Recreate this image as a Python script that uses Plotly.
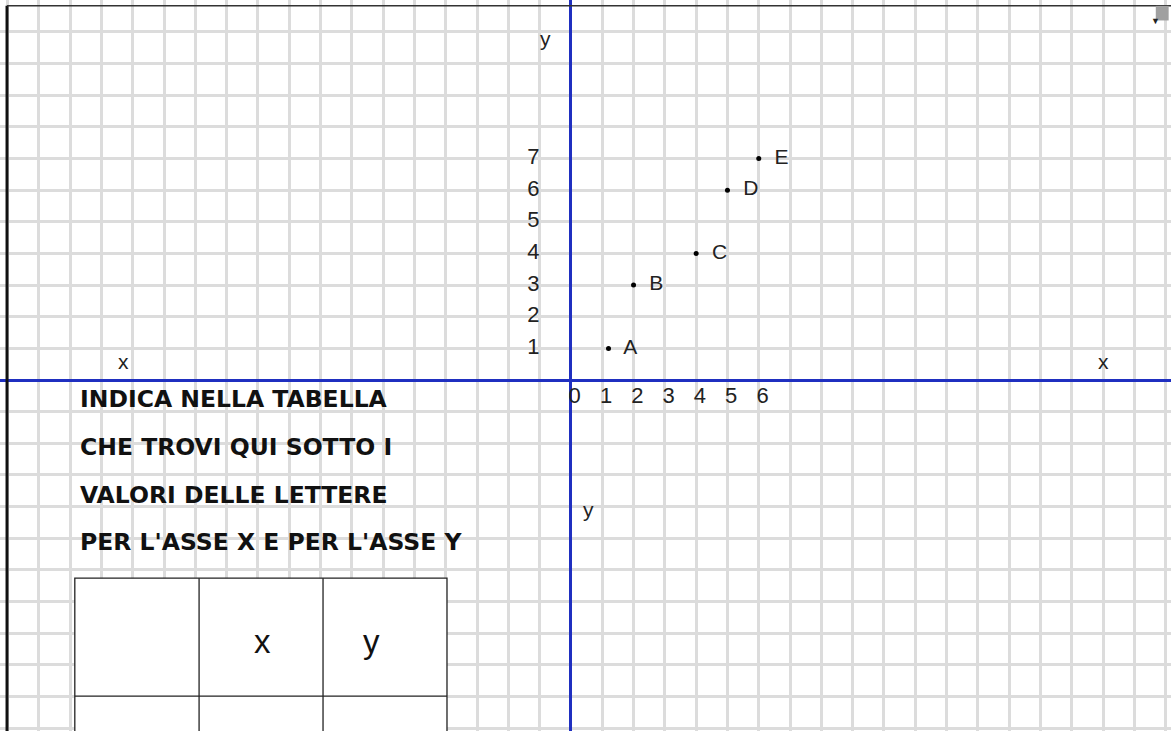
import plotly.graph_objects as go

# punti del piano cartesiano
lettere = ["A", "B", "C", "D", "E"]
px_ = [1.2, 2, 4, 5, 6]
py_ = [1, 3, 4, 6, 7]

# numeri scritti lungo gli assi
num_x = [0, 1, 2, 3, 4, 5, 6]
num_y = [1, 2, 3, 4, 5, 6, 7]

consegna = ["INDICA NELLA TABELLA", "CHE TROVI QUI SOTTO I",
            "VALORI DELLE LETTERE", "PER L'ASSE X E PER L'ASSE Y"]
intestazione = ["", "x", "y"]

font = "Liberation Sans, Arial, sans-serif"
blu = "#1f2fc0"

fig = go.Figure()

fig.add_trace(go.Scatter(x=px_, y=py_, mode="markers+text", text=lettere,
                         texttemplate="  %{text}", textposition="middle right",
                         marker=dict(color="black", size=5),
                         textfont=dict(family=font, size=21, color="#222"),
                         hoverinfo="skip"))

fig.add_trace(go.Scatter(x=[v + 0.12 for v in num_x], y=[-0.55] * len(num_x), mode="text",
                         text=[str(v) for v in num_x],
                         textfont=dict(family=font, size=22, color="#222"), hoverinfo="skip"))
fig.add_trace(go.Scatter(x=[-1.2] * len(num_y), y=num_y, mode="text",
                         text=[str(v) for v in num_y],
                         textfont=dict(family=font, size=22, color="#222"), hoverinfo="skip"))

# nomi degli assi
for tx, ty, t in [(-14.3, 0.6, "x"), (17.0, 0.6, "x"), (-0.8, 10.8, "y"), (0.55, -4.1, "y")]:
    fig.add_annotation(x=tx, y=ty, text=t, showarrow=False,
                       font=dict(family=font, size=21, color="#222"))

# consegna
for i, riga in enumerate(consegna):
    fig.add_annotation(x=-15.75, y=-0.6 - 1.51 * i, text="<b>" + riga + "</b>", showarrow=False,
                       xanchor="left", font=dict(family="DejaVu Sans", size=23.5, color="#111"))

# tabella
col = [-15.85, -11.88, -7.92, -3.96]
fig.add_shape(type="rect", x0=col[0], x1=col[-1], y0=-12, y1=-6.26,
              fillcolor="white", line=dict(color="#222", width=1.3), layer="above")
for c in col[1:-1]:
    fig.add_shape(type="line", x0=c, x1=c, y0=-12, y1=-6.26,
                  line=dict(color="#222", width=1.3), layer="above")
fig.add_shape(type="line", x0=col[0], x1=col[-1], y0=-9.99, y1=-9.99,
              line=dict(color="#222", width=1.3), layer="above")
for i, t in enumerate(intestazione):
    if t:
        fig.add_annotation(x=(col[i] + col[i + 1]) / 2 + (0.05 if i == 1 else -0.42), y=-8.25, text=t,
                           showarrow=False, font=dict(family=font, size=33, color="#111"))

# bordi del foglio
fig.add_shape(type="line", xref="paper", yref="paper", x0=0.006, x1=0.006, y0=0, y1=0.992,
              line=dict(color="#111", width=3), layer="above")
fig.add_shape(type="line", xref="paper", yref="paper", x0=0.006, x1=1, y0=0.992, y1=0.992,
              line=dict(color="#333", width=1.5), layer="above")
fig.add_shape(type="rect", xref="paper", yref="paper", x0=0.987, x1=0.998, y0=0.972, y1=0.992,
              fillcolor="#a0a0a0", line=dict(width=0), layer="above")
fig.add_annotation(xref="paper", yref="paper", x=0.9925, y=0.983, text="▼", showarrow=False,
                   font=dict(size=9, color="#222"))

asse = dict(dtick=1, tick0=0, showgrid=True, gridcolor="#dcdcdc", gridwidth=3,
            zeroline=True, zerolinecolor=blu, zerolinewidth=2.5,
            showticklabels=False, ticks="", showline=False, fixedrange=True)
fig.update_xaxes(range=[-18.24, 19.17], **asse)
fig.update_yaxes(range=[-11.09, 12.01], **asse)

fig.update_layout(width=1171, height=731, margin=dict(l=0, r=0, t=0, b=0),
                  paper_bgcolor="white", plot_bgcolor="white", showlegend=False)

fig.write_html("out.html", config={"displayModeBar": False},
               post_script="document.body.style.margin='0';document.body.style.overflow='hidden';")
